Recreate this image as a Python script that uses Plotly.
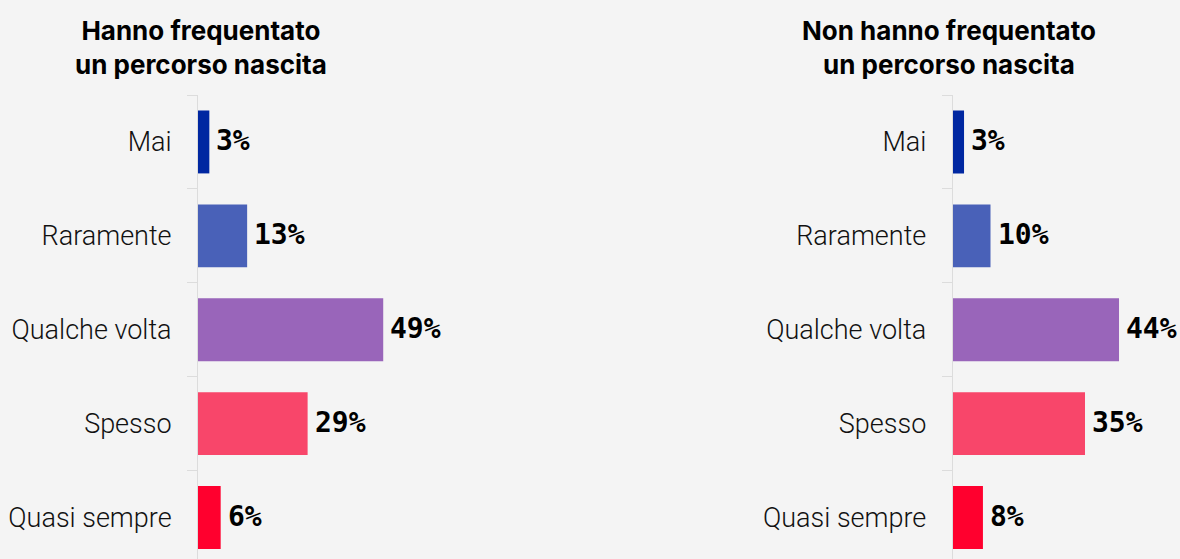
import plotly.graph_objects as go

categories = ["Mai", "Raramente", "Qualche volta", "Spesso", "Quasi sempre"]
values_frequentato = [3, 13, 49, 29, 6]
values_non_frequentato = [3, 10, 44, 35, 8]
colors = ["#0027A1", "#4961B8", "#9965BA", "#F8466A", "#FF002E"]
titles = ["Hanno frequentato<br>un percorso nascita", "Non hanno frequentato<br>un percorso nascita"]

W, H = 1180, 559
BG = "#F4F4F4"
TOP = 94.5
PX_PER_PCT = 3.78
L1, R1 = 198.0, 520.0
L2, R2 = 952.7, 1180.0
band = 94.0
plot_h = H - TOP
yrange = [-0.5 + plot_h / band, -0.5]

fig = go.Figure()
for vals, xa, ya in [(values_frequentato, "x", "y"), (values_non_frequentato, "x2", "y2")]:
    fig.add_trace(go.Bar(
        y=categories, x=vals, orientation="h",
        marker=dict(color=colors, line=dict(width=0)),
        width=0.67,
        cliponaxis=False, xaxis=xa, yaxis=ya, hoverinfo="skip",
    ))
    for c, v in zip(categories, vals):
        fig.add_annotation(
            x=v, y=c, xref=xa, yref=ya, text=f"{v}%", showarrow=False,
            xanchor="left", yanchor="middle", xshift=5, yshift=1,
            font=dict(family="DejaVu Sans Mono", size=28, color="#000000", weight="bold"),
        )

yax = dict(
    type="category", categoryorder="array", categoryarray=categories,
    range=yrange, showline=True, linecolor="#DCDCDC", linewidth=1,
    ticks="outside", tickson="boundaries", ticklen=10, tickcolor="#DCDCDC",
    showgrid=False, zeroline=False, ticklabelstandoff=20,
    tickfont=dict(family="Roboto", size=27, color="#111111", weight=300),
)
fig.update_layout(
    width=W, height=H,
    paper_bgcolor=BG, plot_bgcolor=BG,
    margin=dict(l=0, r=0, t=TOP, b=0, pad=0),
    showlegend=False,
    xaxis=dict(domain=[L1 / W, R1 / W], range=[0, (R1 - L1) / PX_PER_PCT], visible=False),
    xaxis2=dict(domain=[L2 / W, R2 / W], range=[0, (R2 - L2) / PX_PER_PCT], visible=False),
    yaxis=dict(anchor="x", **yax),
    yaxis2=dict(anchor="x2", **yax),
)

for t, cx in zip(titles, [201, 949]):
    fig.add_annotation(
        text=t, x=cx / W, xref="paper", xanchor="center",
        y=1 + (TOP - 12) / plot_h, yref="paper", yanchor="top",
        showarrow=False, align="center",
        font=dict(family="Inter", size=26, color="#000000", weight="bold"),
    )

fig.write_html(
    "out.html",
    config={"displayModeBar": False},
    post_script="document.body.style.margin='0';document.body.style.overflow='hidden';",
)
